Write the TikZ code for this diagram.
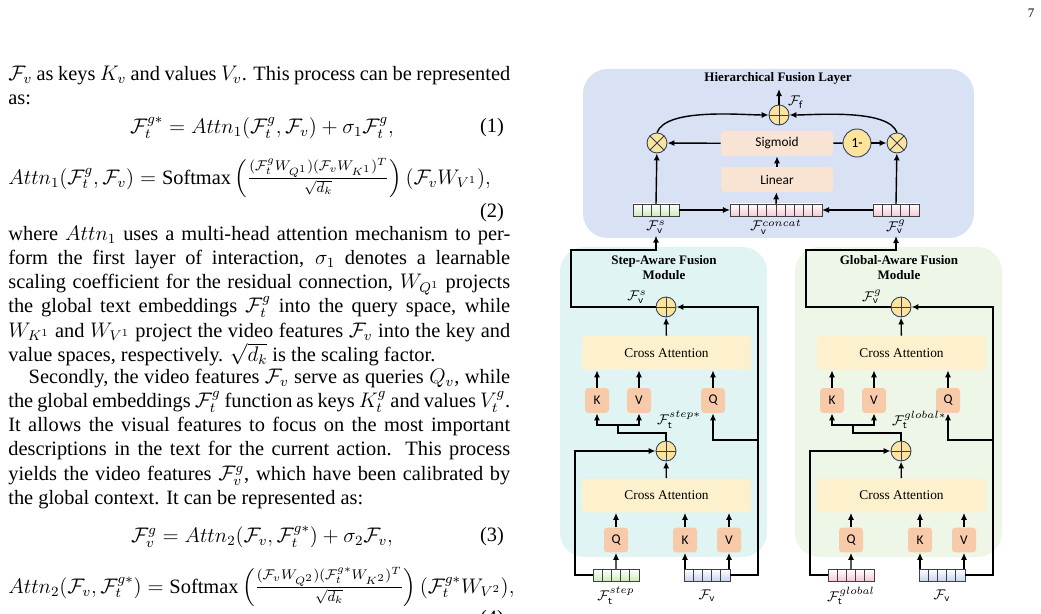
\documentclass[tikz,border=0pt]{standalone}
\usepackage{fontspec}
\setmainfont{Liberation Serif}
\newfontfamily\calib{Carlito}
\usepackage{amsmath}
\usetikzlibrary{positioning,arrows.meta}
\definecolor{layerblue}{RGB}{217,225,244}
\definecolor{stepcyan}{RGB}{223,244,243}
\definecolor{globgreen}{RGB}{238,246,232}
\definecolor{attnyellow}{RGB}{253,240,204}
\definecolor{kvqorange}{RGB}{247,203,170}
\definecolor{linpeach}{RGB}{249,227,211}
\definecolor{opyellow}{RGB}{252,228,154}
\definecolor{opblue}{RGB}{47,62,92}
\definecolor{cellgreen}{RGB}{205,235,190}
\definecolor{cellpink}{RGB}{245,200,212}
\definecolor{cellblue}{RGB}{200,212,240}
\newcommand{\bodytext}{\fontsize{11.6}{13.7}\selectfont}
\newcommand{\Fv}{\mathcal{F}_{\textsf{v}}}
\newcommand{\Ft}{\mathcal{F}_{\textsf{t}}}
% feature vector: name, x of left end, y of top, cells, colour
\newcommand{\featvec}[5]{%
  \foreach \c in {1,...,#4}{
    \draw[top color=white, bottom color=#5, draw=black!75, line width=0.5pt]
      ({#2+(\c-1)*9.2},#3) rectangle ++(9.2,12);
  }
  \coordinate (#1) at ({#2+#4*4.6},{#3+6});
  \coordinate (#1-w) at (#2,{#3+6});
  \coordinate (#1-e) at ({#2+#4*9.2},{#3+6});
  \coordinate (#1-n) at ({#2+#4*4.6},#3);
}
\tikzset{
  flow/.style={-{Latex[length=4pt,width=3.5pt]}, line width=0.8pt},
  wire/.style={line width=0.8pt},
  para/.style={anchor=north west, text width=10.04cm, align=justify, inner sep=0pt, font=\bodytext},
  attn/.style={fill=attnyellow, rounded corners=2pt, minimum width=3.38cm, minimum height=0.68cm, font=\fontsize{7.6}{8}\selectfont},
  kvq/.style={fill=kvqorange, rounded corners=2pt, minimum width=0.48cm, minimum height=0.5cm, font=\calib\fontsize{7.6}{8}\selectfont},
  peach/.style={fill=linpeach, rounded corners=2pt, minimum width=2.24cm, minimum height=0.5cm, font=\calib\fontsize{7.6}{8}\selectfont},
  oper/.style={circle, fill=opyellow, draw=opblue, line width=0.5pt, minimum size=0.4cm, inner sep=0pt},
  lbl/.style={font=\fontsize{8}{9}\selectfont, inner sep=1pt},
  ttl/.style={font=\bfseries\fontsize{7.4}{8.6}\selectfont, align=center},
}
\newcommand{\plusop}[2]{\node[oper] (#1) at #2 {};
  \draw[opblue, line width=0.5pt] (#1.north) -- (#1.south) (#1.west) -- (#1.east);}
\newcommand{\timesop}[2]{\node[oper] (#1) at #2 {};
  \draw[opblue, line width=0.5pt] (#1.north west) -- (#1.south east) (#1.north east) -- (#1.south west);}
\begin{document}
\begin{tikzpicture}[x=0.02cm, y=-0.02cm]
\useasboundingbox (0,0) rectangle (1041,614);
% page number
\node[font=\fontsize{7.4}{8}\selectfont] at (1031,13) {7};

% left column text
\node[para] (p1) at (8,66)
  {$\mathcal{F}_v$ as keys $K_v$ and values $V_v$. This process can be represented\linebreak as:};
\node[font=\bodytext] (eq1) at (262,128) {$\mathcal{F}_t^{g*} = Attn_1(\mathcal{F}_t^{g},\mathcal{F}_v) + \sigma_1\mathcal{F}_t^{g},$};
\node[anchor=east, font=\bodytext] (n1) at (510,128) {(1)};
\node[anchor=west, font=\bodytext, inner sep=0pt] (eq2) at (8,178) {$Attn_1(\mathcal{F}_t^{g},\mathcal{F}_v) = \mathrm{Softmax}\left(\frac{(\mathcal{F}_t^{g}W_{Q^1})(\mathcal{F}_vW_{K^1})^T}{\sqrt{d_k}}\right)(\mathcal{F}_vW_{V^1}),$};
\node[anchor=east, font=\bodytext] (n2) at (510,213) {(2)};
\node[para] (p2) at (8,226)
  {where $Attn_1$ uses a multi-head attention mechanism to per-\linebreak
   form the first layer of interaction, $\sigma_1$ denotes a learnable\linebreak
   scaling coefficient for the residual connection, $W_{Q^1}$ projects\linebreak
   the global text embeddings $\mathcal{F}_t^{g}$ into the query space, while\linebreak
   $W_{K^1}$ and $W_{V^1}$ project the video features $\mathcal{F}_v$ into the key and\linebreak
   value spaces, respectively. $\sqrt{d_k}$ is the scaling factor.};
\node[para] (p3) at (8,369)
  {\hspace*{1em}Secondly, the video features $\mathcal{F}_v$ serve as queries $Q_v$, while\linebreak
   the global embeddings $\mathcal{F}_t^{g}$ function as keys $K_t^{g}$ and values $V_t^{g}$.\linebreak
   It allows the visual features to focus on the most important\linebreak
   descriptions in the text for the current action. This process\linebreak
   yields the video features $\mathcal{F}_v^{g}$, which have been calibrated by\linebreak
   the global context. It can be represented as:};
\node[font=\bodytext] (eq3) at (262,537) {$\mathcal{F}_v^{g} = Attn_2(\mathcal{F}_v,\mathcal{F}_t^{g*}) + \sigma_2\mathcal{F}_v,$};
\node[anchor=east, font=\bodytext] (n3) at (510,537) {(3)};
\node[anchor=west, font=\bodytext, inner sep=0pt] (eq4) at (8,587) {$Attn_2(\mathcal{F}_v,\mathcal{F}_t^{g*}) = \mathrm{Softmax}\left(\frac{(\mathcal{F}_vW_{Q^2})(\mathcal{F}_t^{g*}W_{K^2})^T}{\sqrt{d_k}}\right)(\mathcal{F}_t^{g*}W_{V^2}),$};
\node[anchor=north east, font=\bodytext] (n4) at (510,604) {(4)};

% backgrounds
\fill[layerblue, rounded corners=14pt] (583,69) rectangle (974,238);
\fill[stepcyan, rounded corners=14pt] (560,247) rectangle (767,557);
\fill[globgreen, rounded corners=14pt] (795,247) rectangle (1002,557);

% hierarchical fusion layer
\node[ttl] (hfl) at (778,78) {Hierarchical Fusion Layer};
\plusop{fuse}{(779,115)}
\timesop{mulS}{(657,143)}
\timesop{mulG}{(897,143)}
\node[oper, minimum size=0.56cm, font=\calib\fontsize{8}{8}\selectfont] (oneminus) at (857,143) {1-};
\node[peach] (sigm) at (777,143.5) {Sigmoid};
\node[peach] (lin) at (777,179.5) {Linear};
\featvec{vs}{633}{204}{5}{cellgreen}
\featvec{vc}{730}{204}{10}{cellpink}
\featvec{vg}{873}{204}{5}{cellpink}
\node[lbl] (vsl) at (656,227) {$\Fv^{s}$};
\node[lbl] (vcl) at (776,227) {$\Fv^{concat}$};
\node[lbl] (vgl) at (896,227) {$\Fv^{g}$};
\coordinate (fout) at (779,89);
\node[lbl, anchor=west] (ffl) at (786,102) {$\mathcal{F}_{\textsf{f}}$};
\draw[flow] (fuse) -- (fout);
\draw[flow] (mulS.north) to[out=70, in=180, looseness=0.6] (fuse.west);
\draw[flow] (mulG.north) to[out=110, in=0, looseness=0.6] (fuse.east);
\draw[flow] (sigm) -- (mulS);
\draw[wire] (sigm) -- (oneminus);
\draw[flow] (oneminus) -- (mulG);
\draw[flow] (lin) -- (sigm);
\draw[flow] (vc-n) -- (lin);
\draw[flow] (vs-e) -- (vc-w);
\draw[flow] (vg-w) -- (vc-e);
\draw[flow] (vs-n) -- (mulS);
\draw[flow] (vg-n) -- (mulG);

% step- and global-aware modules
\foreach \m/\dx/\name/\suptxt/\col/\outsup in {S/0/Step/step/cellgreen/s, G/235/Global/global/cellpink/g}{
  \begin{scope}[xshift=\dx*0.02cm]
    \node[ttl] (ttl\m) at (664,268) {\name-Aware Fusion\\Module};
    \plusop{top\m}{(666,307)}
    \node[attn] (caU\m) at (666.5,353) {Cross Attention};
    \node[kvq] (kU\m) at (597,400.5) {K};
    \node[kvq] (vU\m) at (639,400.5) {V};
    \node[kvq] (qU\m) at (713,400.5) {Q};
    \plusop{low\m}{(666,451)}
    \node[attn] (caL\m) at (666.5,495.5) {Cross Attention};
    \node[kvq] (qL\m) at (616,540) {Q};
    \node[kvq] (kL\m) at (685,540) {K};
    \node[kvq] (vL\m) at (729,540) {V};
    \featvec{txt\m}{593}{569}{5}{\col}
    \featvec{vid\m}{684}{569}{5}{cellblue}
    \node[lbl] (txtl\m) at (616,596) {$\Ft^{\suptxt}$};
    \node[lbl] (vidl\m) at (707,596) {$\Fv$};
    \node[lbl] (outl\m) at (637,297) {$\Fv^{\outsup}$};
    \node[lbl, anchor=west] (midl\m) at (655,420) {$\Ft^{\suptxt*}$};
    % connectors
    \draw[flow] (txt\m-n) -- (qL\m);
    \draw[flow] (vid\m-n -| kL\m) -- (kL\m);
    \draw[flow] (vid\m-n -| vL\m) -- (vL\m);
    \foreach \b in {qL,kL,vL}{ \draw[flow] (\b\m) -- (\b\m |- caL\m.south); }
    \foreach \b in {qU,kU,vU}{ \draw[flow] (\b\m) -- (\b\m |- caU\m.south); }
    \draw[flow] (caL\m) -- (low\m);
    \draw[flow] (caU\m) -- (top\m);
    \draw[flow] (txt\m-w) -- (575,575) -- (575,451) -- (low\m.west);
    \draw[flow] (vid\m-e) -- (758,575) -- (758,307) -- (top\m.east);
    \draw[flow] (758,440) -- (713,440) -- (qU\m);
    \draw[wire] (low\m.north) -- (666,433) -- (618,433) -- (618,425);
    \draw[flow] (618,425) -- (597,425) -- (kU\m);
    \draw[flow] (618,425) -- (639,425) -- (vU\m);
  \end{scope}
}
\draw[flow] (topS.west) -- (571,307) -- (571,250) -- (656,250) -- (vsl.south);
\draw[flow] (topG.west) -- (806,307) -- (806,250) -- (896,250) -- (vgl.south);
\end{tikzpicture}
\end{document}
